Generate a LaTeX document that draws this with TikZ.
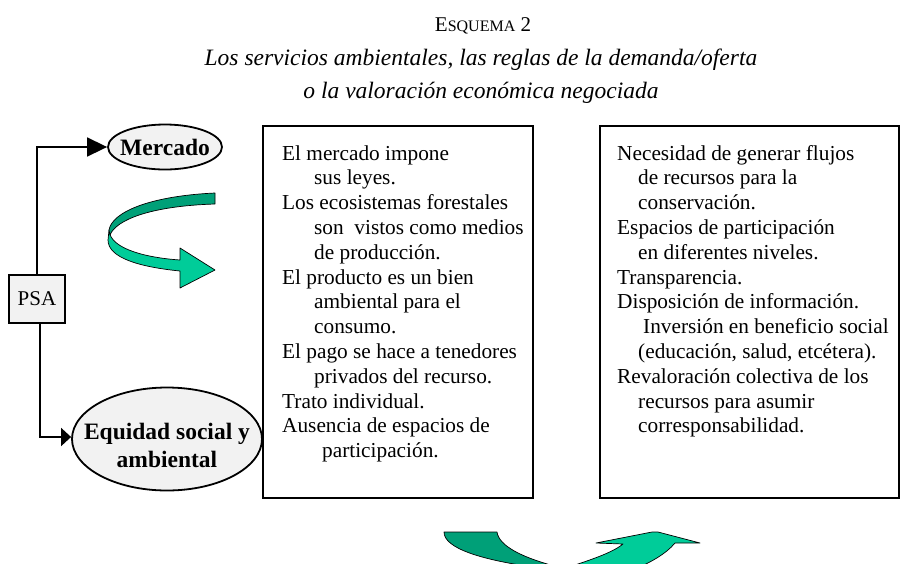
\documentclass[tikz,border=0pt]{standalone}
\usepackage{fontspec}
\setmainfont{Liberation Serif}
\usetikzlibrary{shapes.geometric,arrows.meta}
\definecolor{tealdark}{RGB}{0,160,120}
\definecolor{teallight}{RGB}{0,204,153}
\definecolor{nodegray}{RGB}{242,242,242}
\begin{document}
\begin{tikzpicture}[x=1pt,y=-1pt,
  txtbox/.style={draw, line width=2pt, inner sep=0pt},
  oval/.style={ellipse, draw, line width=1.8pt, fill=nodegray, inner sep=0pt},
  ovaltext/.style={inner sep=0pt, font=\fontsize{23.5}{28}\selectfont\bfseries, align=center},
  psabox/.style={draw, line width=1.8pt, fill=nodegray, inner sep=0pt,
    font=\fontsize{21}{24}\selectfont},
  conn/.style={line width=1.6pt},
  ribbon/.style={draw=black, line width=0.7pt, line join=round},
  body/.style={font=\fontsize{21.3}{24.8}\selectfont, inner sep=0pt, anchor=base west},
  ttl/.style={inner sep=0pt, anchor=base}
]
\useasboundingbox (0,0) rectangle (901,563);
\clip (0,0) rectangle (901,563);

% title
\node[ttl, font=\fontsize{21}{24}\selectfont] (t1) at (483,31) {E{\fontsize{16}{20}\selectfont SQUEMA} 2};
\node[ttl, font=\fontsize{23.5}{28}\selectfont\itshape] (t2) at (481,65) {Los servicios ambientales, las reglas de la demanda/oferta};
\node[ttl, font=\fontsize{23.5}{28}\selectfont\itshape] (t3) at (481,98) {o la valoración económica negociada};

% left nodes
\node[oval, minimum width=114pt, minimum height=45pt] (merc) at (165,147) {};
\node[ovaltext] (merctxt) at (165,147) {Mercado};
\node[psabox, minimum width=56pt, minimum height=48pt] (psa) at (37,299) {PSA};
\node[oval, minimum width=190pt, minimum height=103pt] (eq) at (167,439) {};
\node[ovaltext] (eqtxt) at (167,445) {Equidad social y\\ambiental};

\draw[conn, -{Triangle[length=20pt,width=19pt]}] (psa.north) |- (merc.west);
\draw[conn, -{Triangle[length=10pt,width=18pt]}] ([xshift=3pt]psa.south) |- ([yshift=2pt]eq.west);

% curled arrow (top)
\path[ribbon, fill=teallight] (109,230) .. controls (110,250) and (150,258) .. (180,260)
  -- (180,248) -- (215,270) -- (180,288) -- (180,271)
  .. controls (140,267) and (108,258) .. (108,240) -- cycle;
\path[ribbon, fill=tealdark] (215,193) .. controls (150,196) and (112,212) .. (109,230)
  -- (110,235) .. controls (116,220) and (150,206) .. (215,204) -- cycle;

% boxes
\node[txtbox, minimum width=270pt, minimum height=372pt] (lbox) at (398,312) {};
\node[txtbox, minimum width=299pt, minimum height=372pt] (rbox) at (749.5,312) {};

\node[body] (ltext) at (282,160) {\parbox[t]{248pt}{\raggedright
El mercado impone\\
\hspace*{32pt}sus leyes.\\
Los ecosistemas forestales\\
\hspace*{32pt}son\ \ vistos como medios\\
\hspace*{32pt}de producción.\\
El producto es un bien\\
\hspace*{32pt}ambiental para el\\
\hspace*{32pt}consumo.\\
El pago se hace a tenedores\\
\hspace*{32pt}privados del recurso.\\
Trato individual.\\
Ausencia de espacios de\\
\hspace*{40pt}participación.}};

\node[body] (rtext) at (617,160) {\parbox[t]{282pt}{\raggedright
Necesidad de generar flujos\\
\hspace*{21pt}de recursos para la\\
\hspace*{21pt}conservación.\\
Espacios de participación\\
\hspace*{21pt}en diferentes niveles.\\
Transparencia.\\
Disposición de información.\\
\hspace*{26pt}Inversión en beneficio social\\
\hspace*{21pt}(educación, salud, etcétera).\\
Revaloración colectiva de los\\
\hspace*{21pt}recursos para asumir\\
\hspace*{21pt}corresponsabilidad.}};

% U-turn arrow (bottom)
\path[ribbon, fill=tealdark] (444,532) -- (497,532)
  .. controls (499,546) and (522,558) .. (562,568) -- (540,568)
  .. controls (480,560) and (444,548) .. cycle;
\path[ribbon, fill=teallight] (566,568) .. controls (590,560) and (612,553) .. (623,544)
  -- (596,543) -- (652,532) -- (658,532) -- (700,543) -- (675,543)
  .. controls (665,555) and (650,562) .. (638,568) -- cycle;
\end{tikzpicture}
\end{document}
